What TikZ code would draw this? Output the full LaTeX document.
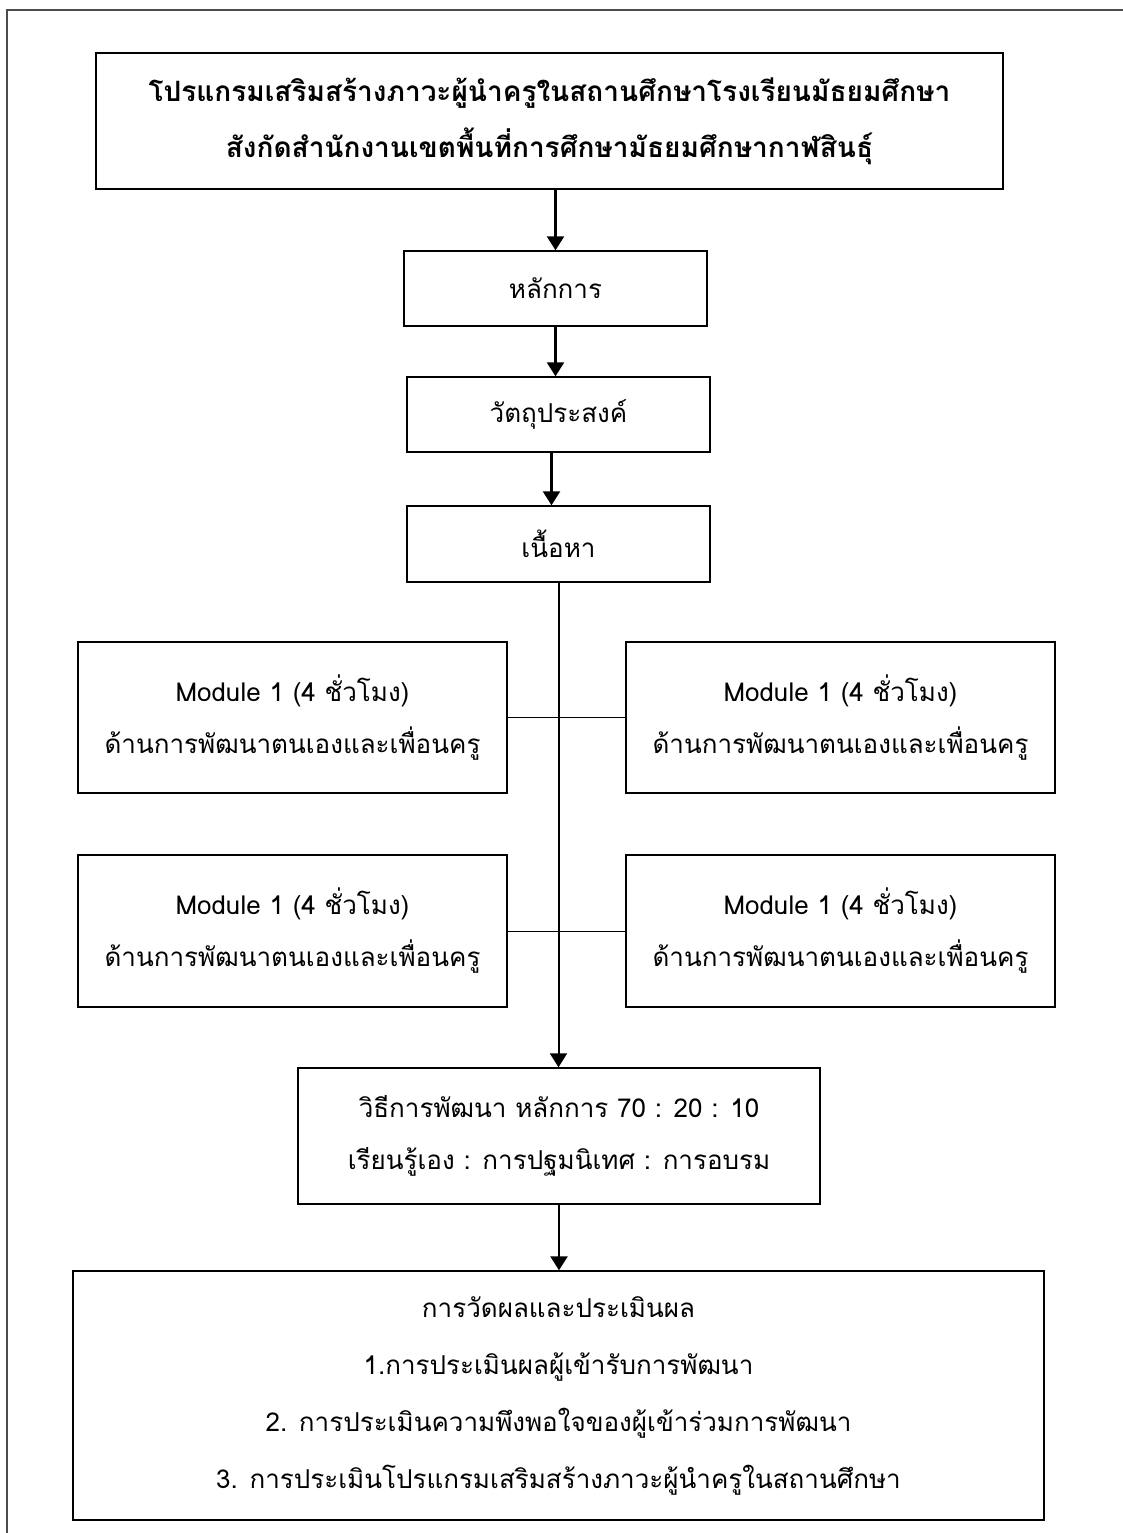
\documentclass[tikz,border=0pt]{standalone}
\usepackage{fontspec}
\setmainfont[Script=Thai]{Loma}
\usetikzlibrary{arrows.meta}

\begin{document}
\begin{tikzpicture}[x=0.5pt,y=-0.5pt,
  box/.style={draw,line width=0.7pt,align=center,inner sep=0pt,
    font=\fontsize{13}{26}\selectfont},
  module/.style={box,minimum width=214.5pt,minimum height=75.5pt},
  link/.style={line width=1.2pt,-{Triangle[length=7pt,width=8.5pt]}}]
  \useasboundingbox (0,0) rectangle (1123,1533);
  \draw[black!70,line width=1pt] (1123,10) -- (7,10) -- (7,1533);
  \node[box,minimum width=453.5pt,minimum height=68pt,
    font=\fontsize{14}{28}\selectfont\bfseries] (tit) at (549.5,121)
    {โปรแกรมเสริมสร้างภาวะผู้นำครูในสถานศึกษาโรงเรียนมัธยมศึกษา\\
     สังกัดสำนักงานเขตพื้นที่การศึกษามัธยมศึกษากาฬสินธุ์};
  \node[box,minimum width=151.5pt,minimum height=37.5pt] (hl) at (555.5,288.5) {หลักการ};
  \node[box,minimum width=151.5pt,minimum height=37.5pt] (ob) at (558.5,414.5) {วัตถุประสงค์};
  \node[box,minimum width=151.5pt,minimum height=38pt] (ct) at (558.5,544) {เนื้อหา};
  \node[module] (m1) at (292.5,717.5) {Module 1 (4 ชั่วโมง)\\ด้านการพัฒนาตนเองและเพื่อนครู};
  \node[module] (m2) at (840.5,717.5) {Module 1 (4 ชั่วโมง)\\ด้านการพัฒนาตนเองและเพื่อนครู};
  \node[module,minimum height=76pt] (m3) at (292.5,931) {Module 1 (4 ชั่วโมง)\\ด้านการพัฒนาตนเองและเพื่อนครู};
  \node[module,minimum height=76pt] (m4) at (840.5,931) {Module 1 (4 ชั่วโมง)\\ด้านการพัฒนาตนเองและเพื่อนครู};
  \node[box,minimum width=261pt,minimum height=68pt] (mt) at (559,1136)
    {วิธีการพัฒนา หลักการ 70 : 20 : 10\\เรียนรู้เอง : การปฐมนิเทศ : การอบรม};
  \node[box,minimum width=485.5pt,minimum height=124.5pt,
    font=\fontsize{13}{28.5}\selectfont] (ev) at (558.5,1395.5)
    {การวัดผลและประเมินผล\\
     1.การประเมินผลผู้เข้ารับการพัฒนา\\
     2. การประเมินความพึงพอใจของผู้เข้าร่วมการพัฒนา\\
     3. การประเมินโปรแกรมเสริมสร้างภาวะผู้นำครูในสถานศึกษา};
  \draw[link] (tit.south -| hl.north) -- (hl.north);
  \draw[link] (hl.south) -- (hl.south |- ob.north);
  \draw[link] ([xshift=-3.5pt]ob.south) -- ([xshift=-3.5pt]ct.north);
  \draw[link,line width=1pt] (ct.south) -- (ct.south |- mt.north);
  \draw[line width=0.5pt] (m1.east) -- (m2.west);
  \draw[line width=0.5pt] (m3.east) -- (m4.west);
  \draw[link] (mt.south) -- (mt.south |- ev.north);
\end{tikzpicture}
\end{document}
